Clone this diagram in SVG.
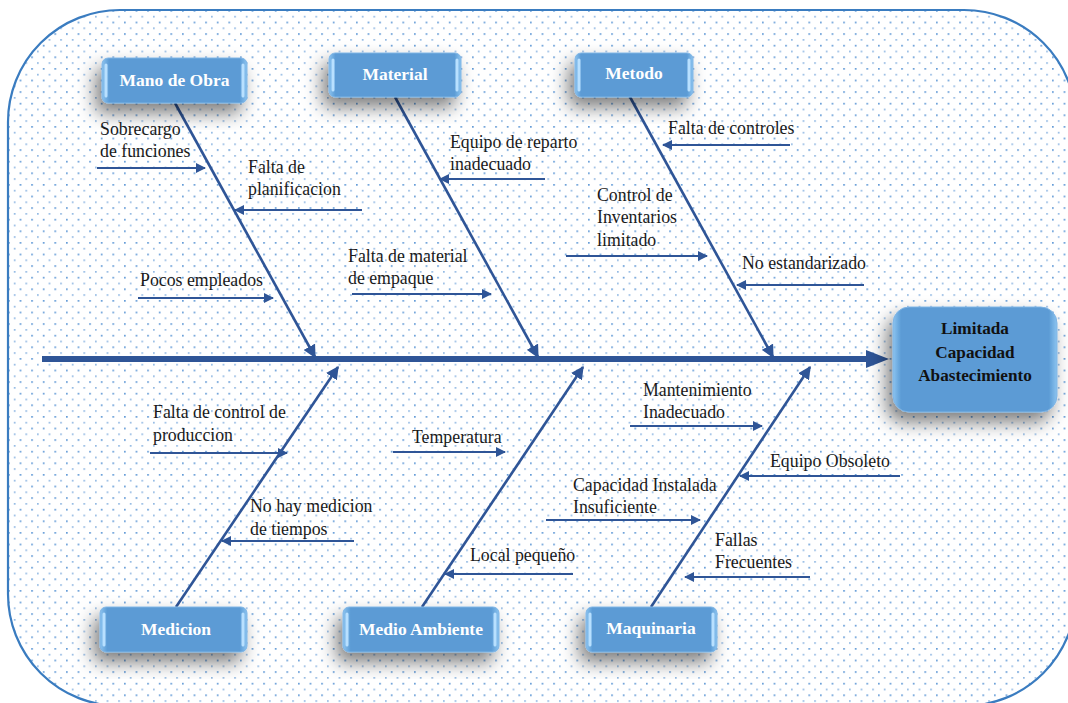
<svg xmlns="http://www.w3.org/2000/svg" width="1068" height="703" viewBox="0 0 1068 703">
<defs>
<pattern id="dots" x="8" y="10" width="11.6" height="11.6" patternUnits="userSpaceOnUse">
<rect x="0" y="0" width="1.7" height="1.7" fill="#4a8bd0" opacity="0.85"/>
<rect x="5.8" y="5.8" width="1.7" height="1.7" fill="#4a8bd0" opacity="0.6"/>
</pattern>
<filter id="sh" x="-30%" y="-40%" width="160%" height="200%">
<feDropShadow dx="-6" dy="10" stdDeviation="9" flood-color="#000" flood-opacity="0.5"/>
</filter>
<marker id="ahs" viewBox="0 0 10 10" refX="9" refY="5" markerWidth="5" markerHeight="5" orient="auto" markerUnits="strokeWidth">
<path d="M0,0 L10,5 L0,10 z" fill="#2f5597"/>
</marker>
<linearGradient id="bx" x1="0" y1="0" x2="1" y2="0">
<stop offset="0" stop-color="#8cc4f0"/>
<stop offset="0.05" stop-color="#5b9bd5"/>
<stop offset="0.95" stop-color="#5b9bd5"/>
<stop offset="1" stop-color="#8cc4f0"/>
</linearGradient>
</defs>
<style>
.box{fill:url(#bx);stroke:#7fb4e4;stroke-width:1;}
.cat{font-family:"Liberation Serif","DejaVu Serif",serif;font-weight:bold;font-size:17.5px;fill:#ffffff;text-anchor:middle;}
.eff{font-family:"Liberation Serif","DejaVu Serif",serif;font-weight:bold;font-size:17.2px;fill:#111;text-anchor:middle;}
.lbl{font-family:"Liberation Serif","DejaVu Serif",serif;font-size:17.8px;fill:#1a1a1a;}
.bone{stroke:#2f5597;stroke-width:2.6;fill:none;marker-end:url(#ahs);}
.sub{stroke:#2f5597;stroke-width:2;fill:none;marker-end:url(#ahs);}
.hl{stroke:#b8e0ff;stroke-width:3;stroke-linecap:round;}
</style>
<rect id="frame" x="8" y="10" width="1068" height="696" rx="112" ry="112" fill="url(#dots)" stroke="#3a7cc0" stroke-width="2.2"/>

<g id="connectors">
<line x1="42" y1="359" x2="870" y2="359" stroke="#2f5597" stroke-width="6"/>
<path d="M866,350 L889,359 L866,368 z" fill="#2f5597"/>
<line class="bone" x1="175" y1="103" x2="315" y2="357"/>
<line class="bone" x1="395" y1="97" x2="538" y2="357"/>
<line class="bone" x1="630" y1="97" x2="773" y2="357"/>
<line class="bone" x1="176" y1="607" x2="338" y2="367"/>
<line class="bone" x1="422" y1="607" x2="583" y2="367"/>
<line class="bone" x1="651" y1="607" x2="810" y2="367"/>
<line class="sub" x1="97" y1="168" x2="205" y2="168"/>
<line class="sub" x1="362" y1="210" x2="235" y2="210"/>
<line class="sub" x1="138" y1="298" x2="273" y2="298"/>
<line class="sub" x1="545" y1="179" x2="440" y2="179"/>
<line class="sub" x1="352" y1="294" x2="491" y2="294"/>
<line class="sub" x1="790" y1="145" x2="663" y2="145"/>
<line class="sub" x1="566" y1="256" x2="707" y2="256"/>
<line class="sub" x1="864" y1="285" x2="737" y2="285"/>
<line class="sub" x1="150" y1="453" x2="287" y2="453"/>
<line class="sub" x1="354" y1="541" x2="222" y2="541"/>
<line class="sub" x1="393" y1="452" x2="505" y2="452"/>
<line class="sub" x1="573" y1="574" x2="445" y2="574"/>
<line class="sub" x1="630" y1="426" x2="762" y2="426"/>
<line class="sub" x1="900" y1="476" x2="740" y2="476"/>
<line class="sub" x1="546" y1="520" x2="700" y2="520"/>
<line class="sub" x1="810" y1="577" x2="685" y2="577"/>
</g>

<g id="effect">
<rect class="box" x="893" y="307" width="164" height="105" rx="16" filter="url(#sh)"/>
<text class="eff" x="975" y="334">Limitada</text>
<text class="eff" x="975" y="358">Capacidad</text>
<text class="eff" x="975" y="381">Abastecimiento</text>
</g>

<g id="mano-de-obra">
<rect class="box" x="102" y="58" width="145" height="45" rx="6" filter="url(#sh)"/>
<line class="hl" x1="106" y1="65" x2="106" y2="96"/><line class="hl" x1="243" y1="65" x2="243" y2="96"/>
<text class="cat" x="174.5" y="86">Mano de Obra</text>
</g>
<g id="material">
<rect class="box" x="329" y="53" width="132" height="44" rx="6" filter="url(#sh)"/>
<line class="hl" x1="333" y1="60" x2="333" y2="90"/><line class="hl" x1="457" y1="60" x2="457" y2="90"/>
<text class="cat" x="395" y="80">Material</text>
</g>
<g id="metodo">
<rect class="box" x="575" y="53" width="118" height="44" rx="6" filter="url(#sh)"/>
<line class="hl" x1="579" y1="60" x2="579" y2="90"/><line class="hl" x1="689" y1="60" x2="689" y2="90"/>
<text class="cat" x="634" y="79">Metodo</text>
</g>
<g id="medicion">
<rect class="box" x="100" y="607" width="147" height="45" rx="6" filter="url(#sh)"/>
<line class="hl" x1="104" y1="614" x2="104" y2="645"/><line class="hl" x1="243" y1="614" x2="243" y2="645"/>
<text class="cat" x="176" y="635">Medicion</text>
</g>
<g id="medio-ambiente">
<rect class="box" x="343" y="607" width="156" height="45" rx="6" filter="url(#sh)"/>
<line class="hl" x1="347" y1="614" x2="347" y2="645"/><line class="hl" x1="495" y1="614" x2="495" y2="645"/>
<text class="cat" x="421" y="635">Medio Ambiente</text>
</g>
<g id="maquinaria">
<rect class="box" x="586" y="607" width="131" height="45" rx="6" filter="url(#sh)"/>
<line class="hl" x1="590" y1="614" x2="590" y2="645"/><line class="hl" x1="713" y1="614" x2="713" y2="645"/>
<text class="cat" x="651" y="634">Maquinaria</text>
</g>

<g id="labels">
<text class="lbl" x="100" y="135">Sobrecargo</text>
<text class="lbl" x="100" y="157">de funciones</text>
<text class="lbl" x="248" y="173">Falta de</text>
<text class="lbl" x="248" y="195">planificacion</text>
<text class="lbl" x="140" y="286">Pocos empleados</text>
<text class="lbl" x="450" y="148">Equipo de reparto</text>
<text class="lbl" x="450" y="170">inadecuado</text>
<text class="lbl" x="348" y="262">Falta de material</text>
<text class="lbl" x="348" y="284">de empaque</text>
<text class="lbl" x="668" y="134">Falta de controles</text>
<text class="lbl" x="597" y="201">Control de</text>
<text class="lbl" x="597" y="223">Inventarios</text>
<text class="lbl" x="597" y="246">limitado</text>
<text class="lbl" x="742" y="269">No estandarizado</text>
<text class="lbl" x="153" y="418">Falta de control de</text>
<text class="lbl" x="153" y="441">produccion</text>
<text class="lbl" x="250" y="512">No hay medicion</text>
<text class="lbl" x="250" y="535">de tiempos</text>
<text class="lbl" x="412" y="443">Temperatura</text>
<text class="lbl" x="470" y="561">Local pequeño</text>
<text class="lbl" x="643" y="396">Mantenimiento</text>
<text class="lbl" x="643" y="418">Inadecuado</text>
<text class="lbl" x="770" y="467">Equipo Obsoleto</text>
<text class="lbl" x="573" y="491">Capacidad Instalada</text>
<text class="lbl" x="573" y="513">Insuficiente</text>
<text class="lbl" x="715" y="546">Fallas</text>
<text class="lbl" x="715" y="568">Frecuentes</text>
</g>
</svg>
